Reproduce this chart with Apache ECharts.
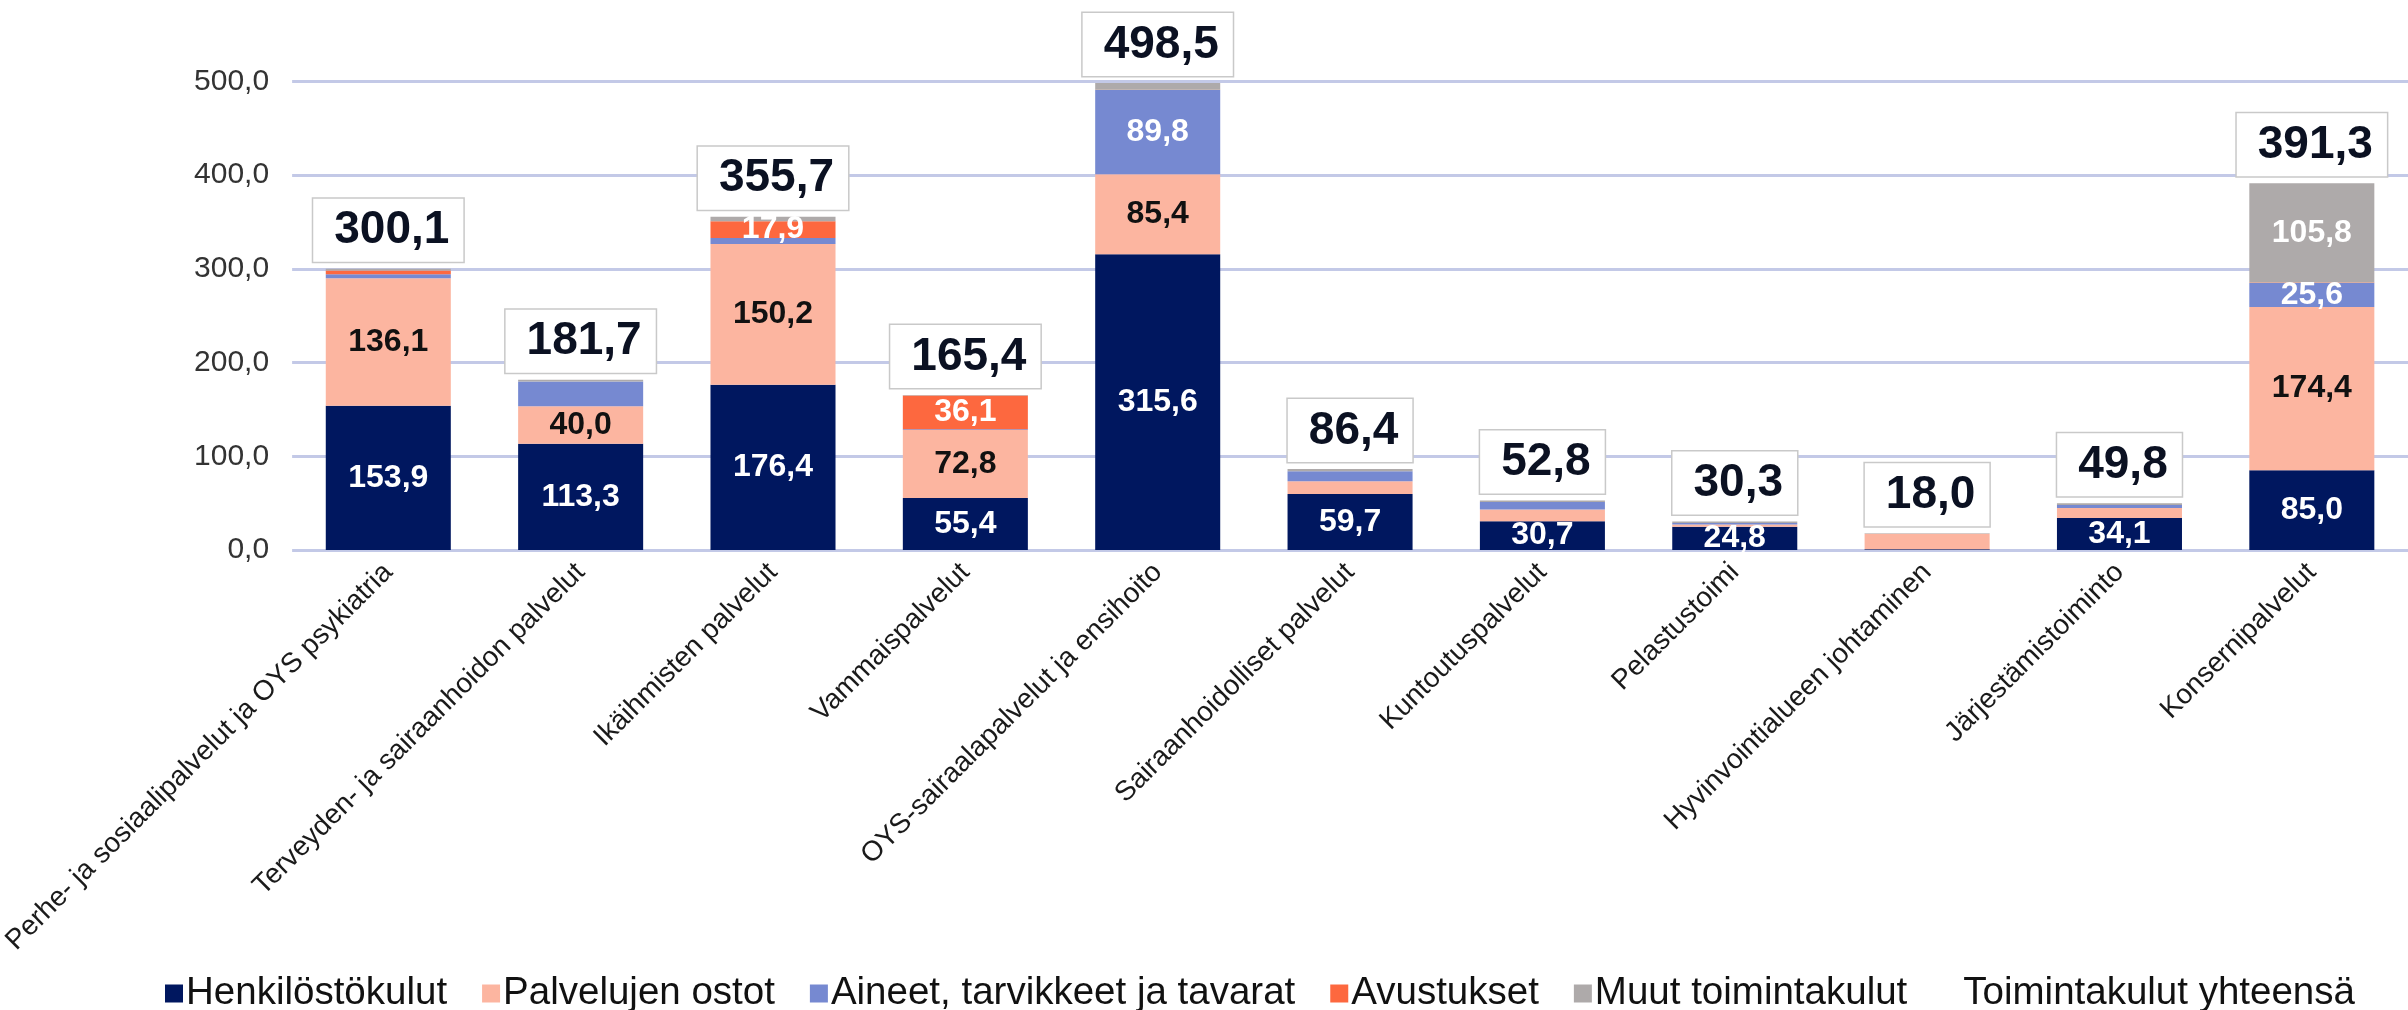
<!DOCTYPE html>
<html>
<head>
<meta charset="utf-8">
<script src="https://cdn.jsdelivr.net/npm/echarts@6/dist/echarts.min.js"></script>
<style>
  html, body { margin: 0; padding: 0; background: #ffffff; }
  #chart { width: 2408px; height: 1010px; }
</style>
</head>
<body>
<div id="chart"></div>
<script>
// ---- Data ----
const categories = [
  'Perhe- ja sosiaalipalvelut ja OYS psykiatria',
  'Terveyden- ja sairaanhoidon palvelut',
  'Ikäihmisten palvelut',
  'Vammaispalvelut',
  'OYS-sairaalapalvelut ja ensihoito',
  'Sairaanhoidolliset palvelut',
  'Kuntoutuspalvelut',
  'Pelastustoimi',
  'Hyvinvointialueen johtaminen',
  'Järjestämistoiminto',
  'Konsernipalvelut'
];
const henkilostokulut = [153.9, 113.3, 176.4, 55.4, 315.6, 59.7, 30.7, 24.8, 0.8, 34.1, 85.0];
const palvelujenOstot = [136.1, 40.0, 150.2, 72.8, 85.4, 13.7, 12.5, 2.5, 16.5, 10.6, 174.4];
const aineet          = [4.2, 26.4, 6.4, 0.6, 89.8, 10.6, 7.9, 1.5, 0.0, 3.3, 25.6];
const avustukset      = [4.0, 0.0, 17.9, 36.1, 0.3, 0.0, 0.0, 0.0, 0.0, 0.0, 0.5];
const muut            = [1.9, 2.0, 4.8, 0.5, 7.4, 2.4, 1.7, 1.5, 0.7, 1.8, 105.8];
const yhteensa        = [300.1, 181.7, 355.7, 165.4, 498.5, 86.4, 52.8, 30.3, 18.0, 49.8, 391.3];
const yTicks = [0, 100, 200, 300, 400, 500];

// ---- Presentation ----
const FONT = '"Liberation Sans", Arial, sans-serif';
const fmt = v => Number(v).toFixed(1).replace('.', ',');

// which data points carry a value label in each segment series
const labelled = {
  'Henkilöstökulut': [0, 1, 2, 3, 4, 5, 6, 7, 9, 10],
  'Palvelujen ostot': [0, 1, 2, 3, 4, 10],
  'Aineet, tarvikkeet ja tavarat': [4, 10],
  'Avustukset': [2, 3],
  'Muut toimintakulut': [10]
};

function seg(name, values, color, textColor) {
  const show = labelled[name];
  return {
    name: name,
    type: 'bar',
    stack: 'total',
    barCategoryGap: '35%',
    itemStyle: { color: color },
    data: values.map((v, i) => ({
      value: v,
      label: { show: show.indexOf(i) >= 0 }
    })),
    label: {
      position: 'inside',
      color: textColor,
      fontFamily: FONT,
      fontWeight: 'bold',
      fontSize: 32,
      formatter: p => fmt(p.value)
    },
    emphasis: { disabled: true }
  };
}

const series = [
  seg('Henkilöstökulut', henkilostokulut, '#00175f', '#ffffff'),
  seg('Palvelujen ostot', palvelujenOstot, '#fcb5a0', '#111111'),
  seg('Aineet, tarvikkeet ja tavarat', aineet, '#7689d1', '#ffffff'),
  seg('Avustukset', avustukset, '#fd683f', '#ffffff'),
  seg('Muut toimintakulut', muut, '#aeaaaa', '#ffffff'),
  {
    name: 'Toimintakulut yhteensä',
    type: 'bar',
    barGap: '-100%',
    barCategoryGap: '35%',
    itemStyle: { color: 'rgba(0,0,0,0)' },
    data: yhteensa,
    z: 10,
    label: {
      show: true,
      position: 'top',
      distance: 7,
      color: '#0b1122',
      fontFamily: FONT,
      fontWeight: 'bold',
      fontSize: 46,
      lineHeight: 46,
      backgroundColor: '#ffffff',
      borderColor: '#c9c9c9',
      borderWidth: 1.5,
      padding: [9, 14, 8, 21],
      formatter: p => fmt(p.value)
    },
    emphasis: { disabled: true }
  }
];

const chart = echarts.init(document.getElementById('chart'), null, { renderer: 'canvas' });
chart.setOption({
  animation: false,
  backgroundColor: '#ffffff',
  grid: { left: 284, right: -18, top: 81.5, bottom: 460, containLabel: false },
  legend: {
    left: 160,
    top: 969,
    itemWidth: 18,
    itemHeight: 18,
    itemGap: 35,
    icon: 'rect',
    textStyle: { fontFamily: FONT, fontSize: 38.5, color: '#111111', padding: [0, 0, 0, -2] },
    data: series.map(s => s.name)
  },
  xAxis: {
    type: 'category',
    data: categories,
    axisLine: { show: false },
    axisTick: { show: false },
    axisLabel: {
      rotate: 45,
      margin: 18,
      interval: 0,
      color: '#1a1a1a',
      fontFamily: FONT,
      fontSize: 28
    }
  },
  yAxis: {
    type: 'value',
    min: yTicks[0],
    max: yTicks[yTicks.length - 1],
    interval: yTicks[1] - yTicks[0],
    axisLine: { show: false },
    axisTick: { show: false },
    splitLine: { lineStyle: { color: '#c3c9e7', width: 3 } },
    axisLabel: {
      margin: 23,
      color: '#333333',
      fontFamily: FONT,
      fontSize: 30,
      formatter: v => fmt(v)
    }
  },
  series: series
});
</script>
</body>
</html>
